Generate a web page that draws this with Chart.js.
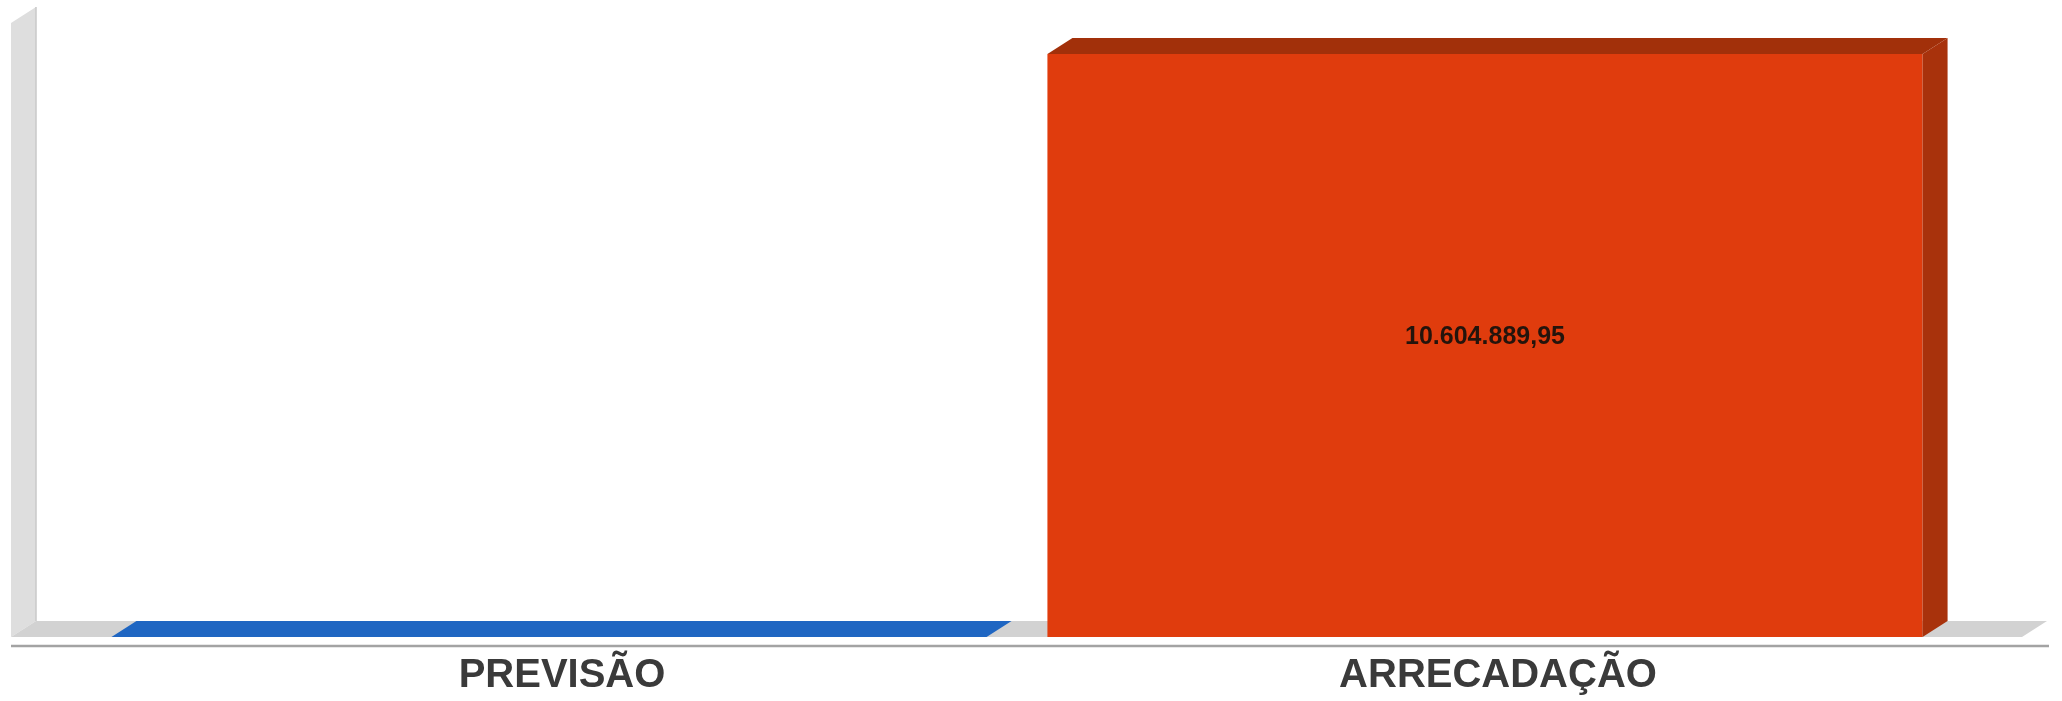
<!DOCTYPE html>
<html>
<head>
<meta charset="utf-8">
<script src="https://cdn.jsdelivr.net/npm/chart.js@4.4.1/dist/chart.umd.min.js"></script>
<style>
  body { margin: 0; background: #fff; }
  #wrap { width: 2062px; height: 701px; }
</style>
</head>
<body>
<div id="wrap"><canvas id="grafico"></canvas></div>
<script>
const categorias = ['PREVISÃO', 'ARRECADAÇÃO']
const valores = [0, 10604889.95]
const coresFrente = ['#1f66c2', '#e03c0d']
const coresTopo = ['#1f66c2', '#a2300a']
const coresLado = ['#1f66c2', '#a8320c']
const eixoMax = 11460000

const DX = 25
const DY = 16

const formatarBR = (v) => {
    const [int, dec] = v.toFixed(2).split('.')
    return int.replace(/\B(?=(\d{3})+(?!\d))/g, '.') + ',' + dec
}

// paredes e chao em "3D"
const cenario = {
    id: 'cenario',
    beforeDatasetsDraw(chart) {
        const {ctx, chartArea} = chart
        const base = chart.scales.y.getPixelForValue(0)
        const xl = chartArea.left - 70
        const xr = chartArea.right + 69
        ctx.save()
        // parede esquerda
        ctx.fillStyle = '#dedede'
        ctx.beginPath()
        ctx.moveTo(xl, chartArea.top + DY)
        ctx.lineTo(xl + DX, chartArea.top)
        ctx.lineTo(xl + DX, base - DY)
        ctx.lineTo(xl, base)
        ctx.closePath()
        ctx.fill()
        ctx.strokeStyle = '#c9c9c9'
        ctx.lineWidth = 1.5
        ctx.beginPath()
        ctx.moveTo(xl + DX, chartArea.top)
        ctx.lineTo(xl + DX, base - DY)
        ctx.stroke()
        // chao
        ctx.fillStyle = '#d2d2d2'
        ctx.beginPath()
        ctx.moveTo(xl, base)
        ctx.lineTo(xl + DX, base - DY)
        ctx.lineTo(xr + DX, base - DY)
        ctx.lineTo(xr, base)
        ctx.closePath()
        ctx.fill()
        // linha do eixo
        ctx.strokeStyle = '#a3a3a3'
        ctx.lineWidth = 2.5
        ctx.beginPath()
        ctx.moveTo(xl, base + 9)
        ctx.lineTo(xr + DX + 2, base + 9)
        ctx.stroke()
        ctx.restore()
    },
    afterDatasetsDraw(chart) {
        const {ctx} = chart
        const meta = chart.getDatasetMeta(0)
        ctx.save()
        meta.data.forEach((bar, i) => {
            const {x, y, base, width} = bar.getProps(['x', 'y', 'base', 'width'], true)
            const l = x - width / 2
            const r = x + width / 2
            // topo
            ctx.fillStyle = coresTopo[i]
            ctx.beginPath()
            ctx.moveTo(l, y)
            ctx.lineTo(l + DX, y - DY)
            ctx.lineTo(r + DX, y - DY)
            ctx.lineTo(r, y)
            ctx.closePath()
            ctx.fill()
            // lado
            if (base - y > 0) {
                ctx.fillStyle = coresLado[i]
                ctx.beginPath()
                ctx.moveTo(r, y)
                ctx.lineTo(r + DX, y - DY)
                ctx.lineTo(r + DX, base - DY)
                ctx.lineTo(r, base)
                ctx.closePath()
                ctx.fill()
            }
            if (valores[i] > 0) {
                ctx.fillStyle = '#24140c'
                ctx.font = 'bold 25px "Liberation Sans", Arial, sans-serif'
                ctx.textAlign = 'center'
                ctx.textBaseline = 'middle'
                ctx.fillText(formatarBR(valores[i]), x, (y - DY + base) / 2)
            }
        })
        ctx.restore()
    }
}

const data = {
    labels: categorias,
    datasets: [
        {
            data: valores,
            backgroundColor: coresFrente,
            borderWidth: 0,
            barPercentage: 0.935,
            categoryPercentage: 1
        }
    ]
}

const config = {
    type: 'bar',
    data: data,
    plugins: [cenario],
    options: {
        responsive: true,
        maintainAspectRatio: false,
        animation: false,
        layout: {
            padding: { left: 81, right: 109, top: 7, bottom: 0 }
        },
        plugins: {
            legend: { display: false },
            tooltip: { enabled: false }
        },
        scales: {
            x: {
                grid: { display: true, drawOnChartArea: false, drawTicks: true, tickLength: 14, color: 'rgba(0,0,0,0)' },
                border: { display: false },
                ticks: {
                    padding: 0,
                    labelOffset: 13,
                    color: '#3a3a3a',
                    font: { family: '"Liberation Sans", Arial, sans-serif', size: 40, weight: 'bold', lineHeight: 1.25 }
                }
            },
            y: {
                display: false,
                min: 0,
                max: eixoMax
            }
        }
    }
}

new Chart(document.getElementById('grafico'), config)
</script>
</body>
</html>
